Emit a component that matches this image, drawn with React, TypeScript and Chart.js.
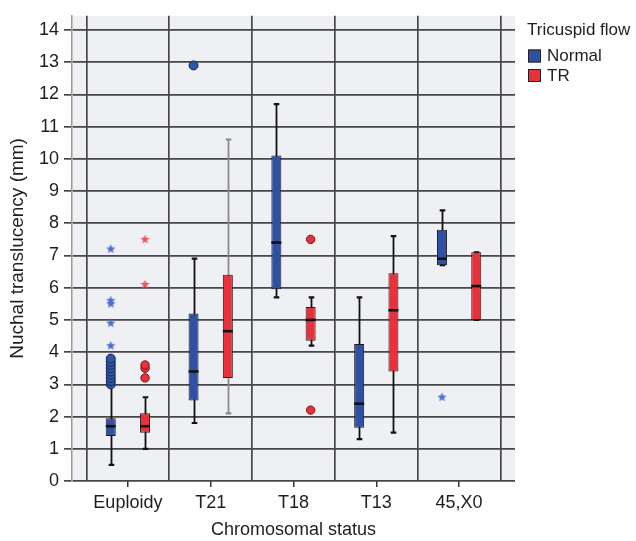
import React, { useEffect, useRef } from 'react';
import { Chart, registerables } from 'chart.js';

Chart.register(...registerables);

// ---------- data ----------
const categories = ['Euploidy', 'T21', 'T18', 'T13', '45,X0'];
const yTickValues = [0, 1, 2, 3, 4, 5, 6, 7, 8, 9, 10, 11, 12, 13, 14];
const groupBoundaries = [0.5, 1.5, 2.5, 3.5, 4.5, 5.5];
const seriesLabels = ['Normal', 'TR'];

// Normal tricuspid flow
const normalLow = [0.5, 1.8, 5.7, 1.3, 6.7];
const normalQ1 = [1.4, 2.5, 5.95, 1.65, 6.7];
const normalMedian = [1.7, 3.4, 7.4, 2.4, 6.9];
const normalQ3 = [1.95, 5.2, 10.1, 4.25, 7.8];
const normalHigh = [2.95, 6.9, 11.7, 5.7, 8.4];
const normalOutliers = [[3.0, 3.1, 3.2, 3.3, 3.4, 3.5, 3.6, 3.7, 3.8], [12.9], [], [], []];
const normalExtremes = [[4.2, 4.9, 5.5, 5.6, 7.2], [], [], [], [2.6]];

// Tricuspid regurgitation
const trLow = [1.0, 2.1, 4.2, 1.5, 5.0];
const trQ1 = [1.5, 3.2, 4.35, 3.4, 5.0];
const trMedian = [1.7, 4.65, 5.0, 5.3, 6.05];
const trQ3 = [2.1, 6.4, 5.4, 6.45, 7.1];
const trHigh = [2.6, 10.6, 5.7, 7.6, 7.1];
const trOutliers = [[3.2, 3.5, 3.6], [], [2.2, 7.5], [], []];
const trExtremes = [[6.1, 7.5], [], [], [], []];

// ---------- styles ----------
const FONT = "'Liberation Sans', Arial, Helvetica, sans-serif";
const TEXT = '#1e1e1e';
const BLUE = '#2f50a3';
const RED = '#e8313a';
const GRID = '#474747';
const PLOT_BG = '#eef0f3';
const OFF = 0.207;
const normalWhiskerColors = ['#111', '#111', '#111', '#111', '#111'];
const trWhiskerColors = ['#111', '#8a8a8a', '#111', '#111', '#111'];

function makeStar(color: string, size: number, R: number) {
  const c = document.createElement('canvas');
  c.width = size;
  c.height = size;
  const ctx = c.getContext('2d')!;
  const cx = size / 2;
  const cy = size / 2;
  const r = R * 0.45;
  ctx.beginPath();
  for (let i = 0; i < 10; i++) {
    const a = -Math.PI / 2 + (i * Math.PI) / 5;
    const rad = i % 2 === 0 ? R : r;
    const px = cx + rad * Math.cos(a);
    const py = cy + rad * Math.sin(a);
    if (i === 0) ctx.moveTo(px, py);
    else ctx.lineTo(px, py);
  }
  ctx.closePath();
  ctx.fillStyle = color;
  ctx.fill();
  return c;
}

function pointsFrom(lists: number[][], off: number) {
  const pts: { x: number; y: number }[] = [];
  lists.forEach((vals, i) => vals.forEach((v) => pts.push({ x: i + 1 + off, y: v })));
  return pts;
}

const bgPlugin = {
  id: 'plotBg',
  beforeDraw(chart: any) {
    const { ctx, chartArea } = chart;
    ctx.save();
    ctx.fillStyle = PLOT_BG;
    ctx.fillRect(chartArea.left, chartArea.top, chartArea.right - chartArea.left, chartArea.bottom - chartArea.top);
    ctx.restore();
  },
};

const series = [
  { off: -OFF, low: normalLow, high: normalHigh, med: normalMedian, colors: normalWhiskerColors },
  { off: OFF, low: trLow, high: trHigh, med: trMedian, colors: trWhiskerColors },
];

const boxPlugin = {
  id: 'boxParts',
  beforeDatasetsDraw(chart: any) {
    const { ctx } = chart;
    const x = chart.scales.x;
    const y = chart.scales.y;
    ctx.save();
    series.forEach((s) =>
      categories.forEach((_, i) => {
        const px = Math.round(x.getPixelForValue(i + 1 + s.off)) + 0.5;
        const yl = y.getPixelForValue(s.low[i]);
        const yh = y.getPixelForValue(s.high[i]);
        ctx.strokeStyle = s.colors[i];
        ctx.lineWidth = 1.8;
        ctx.beginPath();
        ctx.moveTo(px, yl);
        ctx.lineTo(px, yh);
        ctx.stroke();
        ctx.lineWidth = 2.2;
        ctx.beginPath();
        ctx.moveTo(px - 2.8, yl);
        ctx.lineTo(px + 2.8, yl);
        ctx.moveTo(px - 2.8, yh);
        ctx.lineTo(px + 2.8, yh);
        ctx.stroke();
      })
    );
    ctx.restore();
  },
  afterDatasetsDraw(chart: any) {
    const { ctx } = chart;
    const x = chart.scales.x;
    const y = chart.scales.y;
    ctx.save();
    ctx.strokeStyle = '#111';
    ctx.lineWidth = 2.6;
    series.forEach((s) =>
      categories.forEach((_, i) => {
        const px = x.getPixelForValue(i + 1 + s.off);
        const py = y.getPixelForValue(s.med[i]);
        ctx.beginPath();
        ctx.moveTo(px - 5, py);
        ctx.lineTo(px + 5, py);
        ctx.stroke();
      })
    );
    ctx.restore();
  },
};

const legendPlugin = {
  id: 'sideLegend',
  afterDraw(chart: any) {
    const { ctx } = chart;
    const left = chart.chartArea.right + 12;
    ctx.save();
    ctx.fillStyle = TEXT;
    ctx.textAlign = 'left';
    ctx.textBaseline = 'middle';
    ctx.font = `17px ${FONT}`;
    ctx.fillText('Tricuspid flow', left, 30);
    const colors = [BLUE, RED];
    seriesLabels.forEach((lab, k) => {
      const cy = 56 + k * 19.5;
      ctx.fillStyle = colors[k];
      ctx.fillRect(left + 1, cy - 6.5, 13, 13);
      ctx.strokeStyle = '#222';
      ctx.lineWidth = 1;
      ctx.strokeRect(left + 1.5, cy - 6, 12, 12);
      ctx.fillStyle = TEXT;
      ctx.font = `17px ${FONT}`;
      ctx.fillText(lab, left + 20, cy + 0.5);
    });
    ctx.restore();
  },
};

export default function App() {
  const ref = useRef<HTMLCanvasElement>(null);

  useEffect(() => {
    document.body.style.margin = '0';
    const canvas = ref.current!;
    const blueStar = makeStar('#4f6fd0', 11, 4.8);
    const redStar = makeStar('#f0585c', 11, 4.8);

    const chart = new Chart(canvas, {
      type: 'bar',
      data: {
        datasets: [
          {
            type: 'bar',
            label: seriesLabels[0],
            data: categories.map((_, i) => ({ x: i + 1 - OFF, y: [normalQ1[i], normalQ3[i]] })) as any,
            backgroundColor: BLUE,
            borderColor: '#1b1b2a',
            borderWidth: 1,
            borderSkipped: false,
            grouped: false,
            maxBarThickness: 10,
            order: 5,
          } as any,
          {
            type: 'bar',
            label: seriesLabels[1],
            data: categories.map((_, i) => ({ x: i + 1 + OFF, y: [trQ1[i], trQ3[i]] })) as any,
            backgroundColor: RED,
            borderColor: '#2a1b1b',
            borderWidth: 1,
            borderSkipped: false,
            grouped: false,
            maxBarThickness: 10,
            order: 5,
          } as any,
          {
            type: 'scatter',
            label: 'Normal outliers',
            data: pointsFrom(normalOutliers, -OFF),
            pointStyle: 'circle',
            pointRadius: 4.5,
            backgroundColor: '#2f56aa',
            borderColor: '#1a2650',
            borderWidth: 1,
            order: 1,
          } as any,
          {
            type: 'scatter',
            label: 'TR outliers',
            data: pointsFrom(trOutliers, OFF),
            pointStyle: 'circle',
            pointRadius: 4.2,
            backgroundColor: RED,
            borderColor: '#7a1515',
            borderWidth: 1,
            order: 1,
          } as any,
          {
            type: 'scatter',
            label: 'Normal extremes',
            data: pointsFrom(normalExtremes, -OFF),
            pointStyle: blueStar,
            order: 1,
          } as any,
          {
            type: 'scatter',
            label: 'TR extremes',
            data: pointsFrom(trExtremes, OFF),
            pointStyle: redStar,
            order: 1,
          } as any,
        ],
      },
      options: {
        responsive: false,
        animation: false,
        devicePixelRatio: 1,
        layout: { padding: { top: 9, right: 121, left: 0, bottom: 0 } },
        plugins: {
          legend: { display: false },
          tooltip: { enabled: false },
        },
        scales: {
          x: {
            type: 'linear',
            position: 'bottom',
            offset: false,
            min: 0.325,
            max: 5.675,
            afterBuildTicks: (s: any) => {
              s.ticks = categories.map((_, i) => ({ value: i + 1 }));
            },
            afterFit: (s: any) => {
              s.height = 60;
            },
            ticks: {
              autoSkip: false,
              maxRotation: 0,
              padding: 5,
              color: TEXT,
              font: { family: FONT, size: 18 },
              callback: (v: any) => categories[Math.round(Number(v)) - 1] ?? '',
            },
            grid: { offset: false, drawOnChartArea: false, drawTicks: true, tickLength: 6, color: '#333', lineWidth: 1.5 },
            border: { display: false },
            title: {
              display: true,
              text: 'Chromosomal status',
              color: TEXT,
              font: { family: FONT, size: 18 },
              padding: { top: 0, bottom: 0 },
            },
          },
          xg: {
            type: 'linear',
            position: 'bottom',
            offset: false,
            min: 0.325,
            max: 5.675,
            afterBuildTicks: (s: any) => {
              s.ticks = groupBoundaries.map((v) => ({ value: v }));
            },
            afterFit: (s: any) => {
              s.height = 0;
            },
            ticks: { display: false },
            grid: { offset: false, drawOnChartArea: true, drawTicks: false, color: GRID, lineWidth: 1.7 },
            border: { display: false },
          },
          y: {
            type: 'linear',
            min: 0,
            max: 14.44,
            afterBuildTicks: (s: any) => {
              s.ticks = yTickValues.map((v) => ({ value: v }));
            },
            afterFit: (s: any) => {
              s.width = 72;
            },
            ticks: {
              padding: 5,
              color: TEXT,
              font: { family: FONT, size: 18 },
            },
            grid: { color: GRID, lineWidth: 1.7, tickLength: 8, drawTicks: true },
            border: { display: true, color: '#9a9a9a', width: 1.5 },
            title: {
              display: true,
              text: 'Nuchal translucency (mm)',
              color: TEXT,
              font: { family: FONT, size: 19 },
              padding: { top: 6, bottom: 0 },
            },
          },
        },
      } as any,
      plugins: [bgPlugin, boxPlugin, legendPlugin],
    });

    return () => chart.destroy();
  }, []);

  return <canvas ref={ref} width={636} height={541} style={{ display: 'block', width: 636, height: 541 }} />;
}
